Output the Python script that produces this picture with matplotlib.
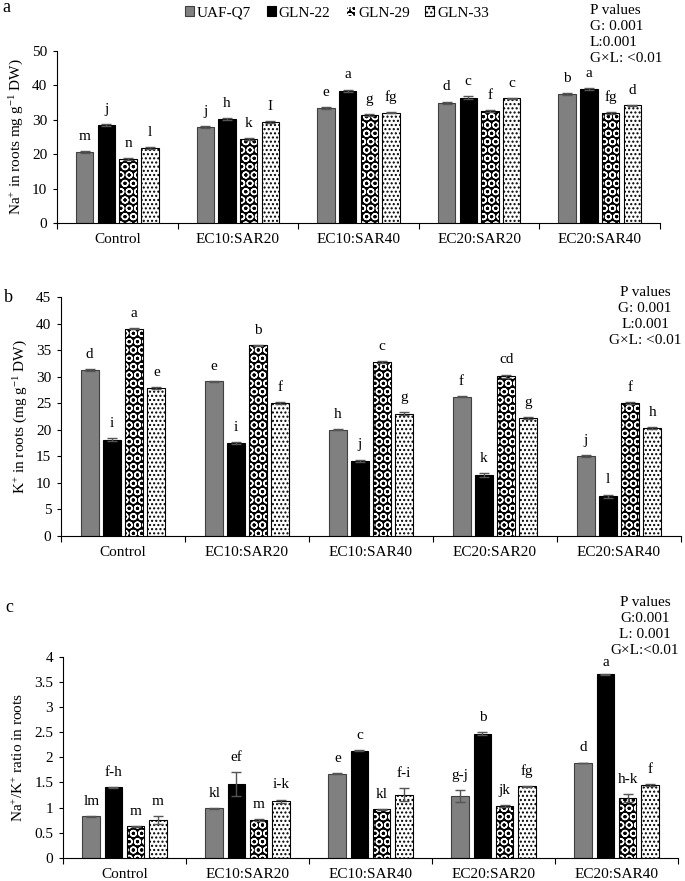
import matplotlib
matplotlib.use("Agg")
import matplotlib.pyplot as plt
from matplotlib.patches import Patch
from matplotlib.ticker import FuncFormatter, FixedLocator
import numpy as np

plt.rcParams["font.family"] = ["Liberation Serif", "DejaVu Serif"]
plt.rcParams["mathtext.fontset"] = "custom"
plt.rcParams["mathtext.rm"] = "Liberation Serif"
plt.rcParams["mathtext.it"] = "Liberation Serif:italic"
plt.rcParams["hatch.linewidth"] = 1.0

treatments = ["Control", "EC10:SAR20", "EC10:SAR40", "EC20:SAR20", "EC20:SAR40"]
genotypes = ["UAF-Q7", "GLN-22", "GLN-29", "GLN-33"]

# Na+ in roots, one list per genotype (across treatments)
na_vals = [[20.6, 27.9, 33.5, 35.0, 37.5],
           [28.5, 30.2, 38.5, 36.4, 39.0],
           [18.5, 24.5, 31.5, 32.5, 32.1],
           [21.7, 29.4, 32.1, 36.2, 34.2]]
na_err = [[0.3, 0.4, 0.3, 0.3, 0.3],
          [0.3, 0.3, 0.3, 0.4, 0.3],
          [0.3, 0.3, 0.3, 0.3, 0.3],
          [0.3, 0.3, 0.2, 0.2, 0.2]]
na_letters = [["m", "j", "e", "d", "b"],
              ["j", "h", "a", "c", "a"],
              ["n", "k", "g", "f", "fg"],
              ["l", "I", "fg", "c", "d"]]

# K+ in roots
k_vals = [[31.2, 29.1, 20.0, 26.2, 15.0],
          [18.1, 17.5, 14.2, 11.5, 7.5],
          [39.0, 35.9, 32.7, 30.1, 25.1],
          [27.8, 25.1, 23.0, 22.2, 20.4]]
k_err = [[0.2, 0.1, 0.1, 0.1, 0.2],
         [0.3, 0.2, 0.2, 0.3, 0.3],
         [0.1, 0.1, 0.2, 0.3, 0.2],
         [0.2, 0.2, 0.3, 0.2, 0.2]]
k_letters = [["d", "e", "h", "f", "j"],
             ["i", "i", "j", "k", "l"],
             ["a", "b", "c", "cd", "f"],
             ["e", "f", "g", "g", "h"]]

# Na+/K+ ratio
r_vals = [[0.83, 0.99, 1.67, 1.23, 1.89],
          [1.40, 1.47, 2.13, 2.47, 3.65],
          [0.63, 0.75, 0.97, 1.04, 1.19],
          [0.75, 1.13, 1.26, 1.42, 1.45]]
r_err = [[0.01, 0.01, 0.01, 0.12, 0.005],
         [0.01, 0.24, 0.01, 0.03, 0.01],
         [0.01, 0.02, 0.01, 0.02, 0.08],
         [0.08, 0.03, 0.12, 0.01, 0.02]]
r_letters = [["lm", "kl", "e", "g-j", "d"],
             ["f-h", "ef", "c", "b", None],
             ["m", "m", "kl", "jk", "h-k"],
             ["m", "i-k", "f-i", "fg", "f"]]

offsets = [-0.27, -0.09, 0.09, 0.27]
width = 0.145
FS = 11

fig = plt.figure(figsize=(6.85, 8.81), dpi=100)
W, H = 685.0, 881.0


def make_axes(x0, x1, ytop, ybot):
    return fig.add_axes([x0 / W, 1 - ybot / H, (x1 - x0) / W, (ybot - ytop) / H])


def draw_bars(ax, vals, errs, letters):
    x = np.arange(len(treatments))
    for i in range(4):
        xi = x + offsets[i]
        if i == 0:
            ax.bar(xi, vals[i], width, color="#808080", edgecolor="#404040", linewidth=0.8, zorder=2)
        elif i == 1:
            ax.bar(xi, vals[i], width, color="black", edgecolor="black", linewidth=0.8, zorder=2)
        elif i == 2:
            ax.bar(xi, vals[i], width, color="black", edgecolor="white", linewidth=0, hatch="OO", zorder=2)
            ax.bar(xi, vals[i], width, fill=False, edgecolor="black", linewidth=0.8, zorder=3)
        else:
            ax.bar(xi, vals[i], width, color="white", edgecolor="black", linewidth=0, hatch="....", zorder=2)
            ax.bar(xi, vals[i], width, fill=False, edgecolor="black", linewidth=0.8, zorder=3)
        ax.errorbar(xi, vals[i], yerr=errs[i], fmt="none", ecolor="#555555",
                    elinewidth=1, capsize=3.5, capthick=1, zorder=4)
        for j in range(len(treatments)):
            if letters[i][j] is None:
                continue
            ax.annotate(letters[i][j], (xi[j], vals[i][j] + errs[i][j]),
                        xytext=(0, 10.5), textcoords="offset points",
                        ha="center", va="center", fontsize=FS)


def style_axes(ax, ymax, ystep, ylabel, label_x):
    ax.set_xlim(-0.5, len(treatments) - 0.5)
    ax.set_ylim(0, ymax)
    ax.set_yticks(np.arange(0, ymax + ystep / 2, ystep))
    ax.yaxis.set_major_formatter(FuncFormatter(lambda v, p: "%g" % v))
    ax.set_xticks(np.arange(len(treatments)))
    ax.set_xticklabels(treatments)
    ax.xaxis.set_minor_locator(FixedLocator(np.arange(-0.5, len(treatments), 1.0)))
    ax.tick_params(axis="x", which="major", length=0, pad=7, labelsize=FS)
    ax.tick_params(axis="x", which="minor", length=4, width=0.8, direction="out")
    ax.tick_params(axis="y", length=3, width=0.8, pad=4, labelsize=FS)
    for s in ["top", "right"]:
        ax.spines[s].set_visible(False)
    for s in ["left", "bottom"]:
        ax.spines[s].set_linewidth(0.8)
    ax.set_ylabel(ylabel, fontsize=FS)
    ax.yaxis.set_label_coords(label_x, 0.5)


# panel a
ax1 = make_axes(57, 660, 51, 223)
draw_bars(ax1, na_vals, na_err, na_letters)
style_axes(ax1, 50, 10, r"Na$^{+}$ in roots mg g$^{-1}$ DW)", -0.052)

# panel b
ax2 = make_axes(61, 681, 297, 536)
draw_bars(ax2, k_vals, k_err, k_letters)
style_axes(ax2, 45, 5, r"K$^{+}$ in roots (mg g$^{-1}$ DW)", -0.050)

# panel c
ax3 = make_axes(63, 678, 656.5, 858)
draw_bars(ax3, r_vals, r_err, r_letters)
style_axes(ax3, 4, 0.5, r"Na$^{+}$/K$^{+}$ ratio in roots", -0.060)
ax3.text(4 + offsets[1], 3.88, "a", ha="center", va="center", fontsize=FS)

# panel letters
fig.text(2 / W, 1 - 7 / H, "a", fontsize=13, va="center")
fig.text(4 / W, 1 - 298 / H, "b", fontsize=13, va="center")
fig.text(5 / W, 1 - 607 / H, "c", fontsize=13, va="center")

# P values
fig.text(590 / W, 1 - 35 / H, "P values\nG: 0.001\nL:0.001\nG\u00d7L: <0.01",
         ha="left", va="center", fontsize=FS, linespacing=1.3, multialignment="left")
fig.text(645 / W, 1 - 316 / H, "P values\nG: 0.001\nL:0.001\nG\u00d7L: <0.01",
         ha="center", va="center", fontsize=FS, linespacing=1.3, multialignment="center")
fig.text(645 / W, 1 - 627 / H, "P values\nG:0.001\nL: 0.001\nG\u00d7L:<0.01",
         ha="center", va="center", fontsize=FS, linespacing=1.3, multialignment="center")

# legend
handles = [Patch(facecolor="#808080", edgecolor="#404040", linewidth=0.8),
           Patch(facecolor="black", edgecolor="black", linewidth=0.8),
           Patch(facecolor="black", edgecolor="white", hatch="OO", linewidth=0.8),
           Patch(facecolor="white", edgecolor="black", hatch="....", linewidth=0.8)]
fig.legend(handles, genotypes, loc="center", bbox_to_anchor=(337 / W, 1 - 13 / H),
           ncol=4, frameon=False, fontsize=FS, handlelength=0.6, handleheight=0.6,
           handletextpad=0.2, columnspacing=1.0)

fig.savefig("out.png", dpi=100)
